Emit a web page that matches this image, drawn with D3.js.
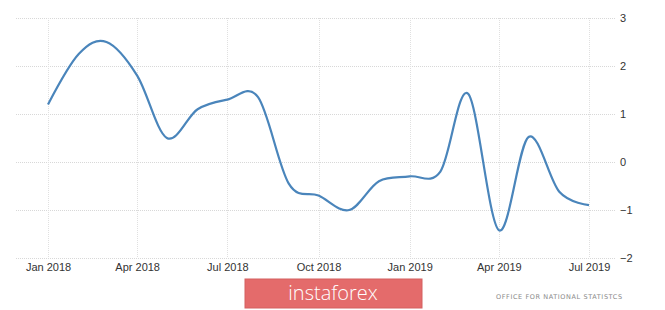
<!DOCTYPE html>
<html>
<head>
<meta charset="utf-8">
<script src="https://cdn.jsdelivr.net/npm/d3@7"></script>
<style>
  body { margin: 0; background: #fff; }
  .tick text { font-family: "Liberation Sans", Arial, sans-serif; font-size: 11px; fill: #333; }
</style>
</head>
<body>
<div id="chart"></div>
<script>
// monthly values, Jan 2018 .. Jul 2019
const months = ["2018-01","2018-02","2018-03","2018-04","2018-05","2018-06","2018-07","2018-08","2018-09","2018-10","2018-11","2018-12",
                "2019-01","2019-02","2019-03","2019-04","2019-05","2019-06","2019-07"];
const values = [1.2, 2.25, 2.5, 1.8, 0.5, 1.1, 1.3, 1.35, -0.45, -0.7, -1.0, -0.4,
                -0.3, -0.2, 1.42, -1.42, 0.52, -0.62, -0.9];
const xTicks = ["2018-01","2018-04","2018-07","2018-10","2019-01","2019-04","2019-07"];
const yTicks = [3, 2, 1, 0, -1, -2];
const source = "OFFICE FOR NATIONAL STATISTCS";
const brand = "instaforex";

const width = 665;
const height = 310;
const margin = {top: 18, left: 48, right: 76, bottom: 52};

const parse = d3.timeParse("%Y-%m");
const data = months.map(function(m, i) { return {date: parse(m), value: values[i]}; });

const viz = d3.select("#chart")
    .append("svg")
    .attr("width", width)
    .attr("height", height);

// Scales
const xScale = d3.scaleTime()
    .domain([parse(months[0]), parse(months[months.length-1])])
    .range([margin.left, width-margin.right]);

const yScale = d3.scaleLinear()
    .domain([-2, 3])
    .range([height-margin.bottom, margin.top]);

// Grid
viz.append("g")
    .selectAll("line")
    .data(yTicks)
    .enter()
    .append("line")
        .attr("x1", 16)
        .attr("x2", 616)
        .attr("y1", function(d) { return yScale(d) + 0.5; })
        .attr("y2", function(d) { return yScale(d) + 0.5; })
        .attr("stroke", "#d8d8d8")
        .attr("stroke-dasharray", "1,1");

viz.append("g")
    .selectAll("line")
    .data(xTicks)
    .enter()
    .append("line")
        .attr("x1", function(d) { return Math.round(xScale(parse(d))) + 0.5; })
        .attr("x2", function(d) { return Math.round(xScale(parse(d))) + 0.5; })
        .attr("y1", margin.top)
        .attr("y2", height-margin.bottom)
        .attr("stroke", "#e0e0e0")
        .attr("stroke-dasharray", "1,1");

// Axes
const xAxis = viz.append("g")
    .attr("transform", `translate(0,${height-margin.bottom})`)
    .call(d3.axisBottom(xScale)
        .tickValues(xTicks.map(parse))
        .tickFormat(d3.timeFormat("%b %Y"))
        .tickSize(0)
        .tickPadding(5));
xAxis.select(".domain").remove();

const yAxis = viz.append("g")
    .attr("transform", "translate(618,0)")
    .call(d3.axisRight(yScale)
        .tickValues(yTicks)
        .tickFormat(d3.format("d"))
        .tickSize(0)
        .tickPadding(2));
yAxis.select(".domain").remove();
yAxis.selectAll("text").attr("dy", "0.32em");

// Line
const line = d3.line()
    .x(function(d) { return xScale(d.date); })
    .y(function(d) { return yScale(d.value); })
    .curve(d3.curveCatmullRom.alpha(0));

viz.append("path")
    .datum(data)
    .attr("d", line)
    .attr("fill", "none")
    .attr("stroke", "#4a85bb")
    .attr("stroke-width", 2.2)
    .attr("stroke-linejoin", "round");

// Watermark
viz.append("rect")
    .attr("x", 245)
    .attr("y", 279)
    .attr("width", 177)
    .attr("height", 29)
    .attr("fill", "#e46b6b")
    .attr("stroke", "#d46060")
    .attr("stroke-width", 1);

viz.append("text")
    .attr("x", 333)
    .attr("y", 300)
    .attr("text-anchor", "middle")
    .attr("fill", "#ffffff")
    .style("font-family", "'Open Sans', sans-serif")
    .style("font-size", "20px")
    .style("font-weight", "300")
    .text(brand);

viz.append("text")
    .attr("x", 496)
    .attr("y", 299)
    .attr("fill", "#8a8a8a")
    .style("font-family", "'DejaVu Sans', sans-serif")
    .style("font-size", "6.5px")
    .style("letter-spacing", "0.6px")
    .text(source);
</script>
</body>
</html>
